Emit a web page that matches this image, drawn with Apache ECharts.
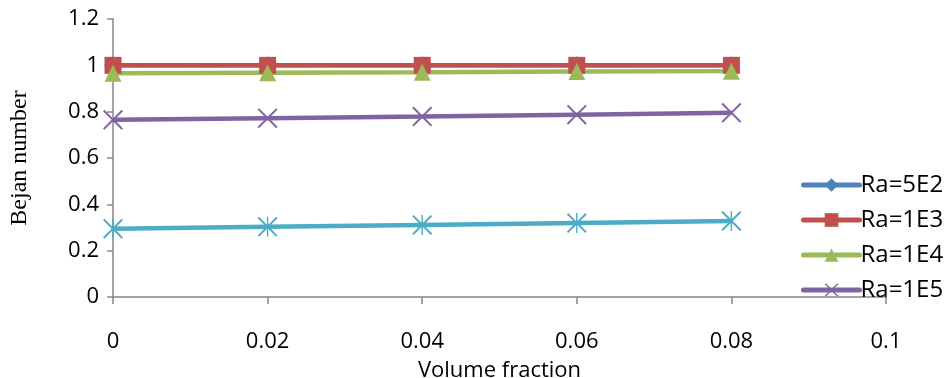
<!DOCTYPE html>
<html>
<head>
<meta charset="utf-8">
<script src="https://cdn.jsdelivr.net/npm/echarts@6/dist/echarts.min.js"></script>
<style>
  html, body { margin: 0; padding: 0; background: #fff; }
  #chart { width: 948px; height: 378px; }
</style>
</head>
<body>
<div id="chart"></div>
<script>
// Bejan number versus nanofluid volume fraction for several Rayleigh numbers
const volumeFraction = [0, 0.02, 0.04, 0.06, 0.08];
const ra5e2 = [1.0, 1.0, 1.0, 1.0, 1.0];
const ra1e3 = [1.0, 1.0, 1.0, 1.0, 1.0];
const ra1e4 = [0.966, 0.968, 0.970, 0.973, 0.975];
const ra1e5 = [0.765, 0.772, 0.779, 0.787, 0.795];
const ra1e6 = [0.295, 0.303, 0.311, 0.319, 0.328];
const legendNames = ['Ra=5E2', 'Ra=1E3', 'Ra=1E4', 'Ra=1E5'];

const crossPath = 'path://M0,7L7,0L50,43L93,0L100,7L57,50L100,93L93,100L50,57L7,100L0,93L43,50Z';
const starPath = 'path://M0,7L7,0L50,43L93,0L100,7L57,50L100,93L93,100L50,57L7,100L0,93L43,50Z' +
                 'M46.5,0L53.5,0L53.5,100L46.5,100Z';

const axisColor = '#868686';
const tickFont = { fontFamily: 'Open Sans', fontSize: 22, color: '#000' };

function pairs(ys) { return volumeFraction.map((x, i) => [x, ys[i]]); }

function lineSeries(name, ys, color, symbol, size) {
  return {
    name: name,
    type: 'line',
    data: pairs(ys),
    symbol: symbol,
    symbolSize: size,
    showAllSymbol: true,
    lineStyle: { color: color, width: 4.5 },
    itemStyle: { color: color },
    emphasis: { disabled: true },
    animation: false
  };
}

const chart = echarts.init(document.getElementById('chart'), null, { renderer: 'canvas' });
chart.setOption({
  backgroundColor: '#fff',
  animation: false,
  grid: { left: 113, right: 62, top: 19, bottom: 81, containLabel: false, outerBoundsMode: 'none' },
  legend: {
    data: legendNames,
    orient: 'vertical',
    left: 796,
    top: 168,
    itemWidth: 56,
    itemHeight: 17,
    itemGap: 11,
    lineStyle: { width: 5, cap: 'round' },
    textStyle: { fontFamily: 'Open Sans', fontSize: 24, color: '#000', padding: [0, 0, 0, -4] },
    selectedMode: false
  },
  xAxis: {
    type: 'value',
    min: 0,
    max: 0.1,
    interval: 0.02,
    name: 'Volume fraction',
    nameLocation: 'middle',
    nameGap: 63,
    nameTextStyle: { fontFamily: 'Open Sans', fontSize: 22, color: '#000' },
    splitLine: { show: false },
    axisLine: { lineStyle: { color: axisColor, width: 1.5 } },
    axisTick: { show: true, inside: false, length: 7, lineStyle: { color: axisColor, width: 1.5 } },
    axisLabel: Object.assign({ margin: 34 }, tickFont)
  },
  yAxis: {
    type: 'value',
    min: 0,
    max: 1.2,
    interval: 0.2,
    name: 'Bejan number',
    nameLocation: 'middle',
    nameGap: 81,
    nameRotate: 90,
    nameTextStyle: { fontFamily: 'Liberation Serif', fontSize: 24, color: '#000' },
    splitLine: { show: false },
    axisLine: { show: true, lineStyle: { color: axisColor, width: 1.5 } },
    axisTick: { show: true, inside: false, length: 6, lineStyle: { color: axisColor, width: 1.5 } },
    axisLabel: Object.assign({ margin: 14 }, tickFont)
  },
  series: [
    lineSeries('Ra=5E2', ra5e2, '#4F81BD', 'diamond', 18),
    lineSeries('Ra=1E3', ra1e3, '#C0504D', 'rect', 17),
    lineSeries('Ra=1E4', ra1e4, '#9BBB59', 'triangle', 17),
    lineSeries('Ra=1E5', ra1e5, '#8064A2', crossPath, 20),
    lineSeries('Ra=1E6', ra1e6, '#4BACC6', starPath, 20)
  ]
});
</script>
</body>
</html>
